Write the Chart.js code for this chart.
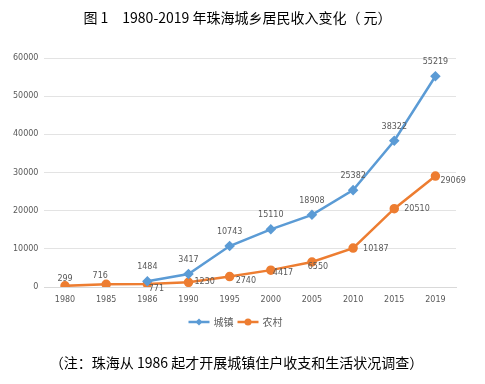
<!DOCTYPE html>
<html><head><meta charset="utf-8">
<script src="https://cdn.jsdelivr.net/npm/chart.js@4.4.0/dist/chart.umd.min.js"></script>
<style>
html,body{margin:0;padding:0;background:#fff;width:485px;height:384px;overflow:hidden}
#wrap{position:relative;width:485px;height:384px}
canvas{position:absolute;left:0;top:0}
.t{position:absolute;left:0;width:485px;text-align:center;font-family:"Noto Sans CJK SC",sans-serif;color:#111;white-space:pre}
#title{top:7px;left:-5px;font-size:14px;font-weight:normal;color:#000}
#note{top:352px;left:-6px;font-size:14px;color:#000}
</style></head>
<body><div id="wrap">
<canvas id="c" width="485" height="384"></canvas>
<div class="t" id="title">图 1　1980-2019 年珠海城乡居民收入变化（ 元）</div>
<div class="t" id="note">（注：珠海从 1986 起才开展城镇住户收支和生活状况调查）</div>
</div>
<script>
const categories = ['1980','1985','1986','1990','1995','2000','2005','2010','2015','2019'];
const urbanIncome = [null, null, 1484, 3417, 10743, 15110, 18908, 25382, 38322, 55219];
const ruralIncome = [299, 716, 771, 1230, 2740, 4417, 6550, 10187, 20510, 29069];
const seriesNames = ['城镇', '农村'];

const BLUE = '#5B9BD5', ORANGE = '#ED7D31';

// label placement offsets (style, not data)
const urbanLabelPos = categories.map(() => ({dx:0, dy:-14, align:'center'}));
const ruralLabelPos = [
  {dx:0,dy:-7,align:'center'},{dx:-6,dy:-8,align:'center'},{dx:9,dy:5,align:'center'},
  {dx:6,dy:0,align:'left'},{dx:6,dy:4,align:'left'},{dx:2,dy:3,align:'left'},
  {dx:6,dy:5,align:'center'},{dx:10,dy:1,align:'left'},{dx:10,dy:0,align:'left'},{dx:5,dy:5,align:'left'}
];

function drawMarker(g, style, x, y, r){
  g.beginPath();
  if(style==='circle'){ g.arc(x,y,r,0,Math.PI*2); }
  else { g.moveTo(x,y-r); g.lineTo(x+r,y); g.lineTo(x,y+r); g.lineTo(x-r,y); g.closePath(); }
  g.fill();
}

const labelPlugin = {
  id:'dataLabels',
  afterDatasetsDraw(chart){
    const ctx = chart.ctx;
    ctx.save();
    ctx.font = '8px "DejaVu Sans"';
    ctx.fillStyle = '#595959';
    ctx.textBaseline = 'middle';
    chart.data.datasets.forEach((ds, di) => {
      const meta = chart.getDatasetMeta(di);
      const pos = ds.labelPos;
      meta.data.forEach((pt, i) => {
        const v = ds.data[i];
        if (v === null || v === undefined) return;
        const p = pos[i];
        ctx.textAlign = p.align;
        ctx.fillText(String(v), pt.x + p.dx, pt.y + p.dy);
      });
    });
    ctx.restore();
  }
};

const legendPlugin = {
  id:'lineLegend',
  afterDraw(chart){
    const ctx = chart.ctx;
    ctx.save();
    ctx.font = '10px "Noto Sans CJK SC"';
    ctx.textBaseline = 'middle';
    ctx.textAlign = 'left';
    const y = chart.chartArea.bottom + 35;
    const sw = 21, gap = 4, itemGap = 4;
    const items = chart.data.datasets.map(ds => ({ds, w: sw + gap + ctx.measureText(ds.label).width}));
    const total = items.reduce((a,b)=>a+b.w,0) + itemGap*(items.length-1);
    let x = chart.width/2 - 7 - total/2;
    items.forEach(it => {
      const ds = it.ds;
      ctx.strokeStyle = ds.borderColor; ctx.fillStyle = ds.borderColor; ctx.lineWidth = 2.5;
      ctx.beginPath(); ctx.moveTo(x, y); ctx.lineTo(x+sw, y); ctx.stroke();
      drawMarker(ctx, ds.pointStyle === 'circle' ? 'circle' : 'diamond', x+sw/2, y, 3.5);
      ctx.fillStyle = '#595959';
      ctx.fillText(ds.label, x + sw + gap, y);
      x += it.w + itemGap;
    });
    ctx.restore();
  }
};

new Chart(document.getElementById('c'), {
  type:'line',
  data:{
    labels: categories,
    datasets:[
      {label:seriesNames[0], data:urbanIncome, borderColor:BLUE, backgroundColor:BLUE,
       borderWidth:2.5, pointStyle:'rectRot', pointRadius:3.5, pointHoverRadius:3.5,
       tension:0, spanGaps:false, labelPos:urbanLabelPos},
      {label:seriesNames[1], data:ruralIncome, borderColor:ORANGE, backgroundColor:ORANGE,
       borderWidth:2.5, pointStyle:'circle', pointRadius:3.5, pointHoverRadius:3.5,
       tension:0, labelPos:ruralLabelPos}
    ]
  },
  options:{
    responsive:false, animation:false,
    layout:{padding:{top:58, left:7, right:29, bottom:77}},
    plugins:{
      tooltip:{enabled:false},
      title:{display:false},
      legend:{display:false}
    },
    scales:{
      x:{
        offset:true,
        grid:{display:false, offset:true},
        border:{display:true, color:'#d9d9d9'},
        ticks:{font:{family:'"DejaVu Sans"', size:8}, color:'#595959', padding:0},
        afterFit(s){ s.height = 20; }
      },
      y:{
        min:0, max:60000,
        grid:{color:'#e3e3e3', drawTicks:false},
        border:{display:false},
        ticks:{stepSize:10000, font:{family:'"DejaVu Sans"', size:8}, color:'#595959', padding:6,
               callback:(v)=>String(v)}
      }
    }
  },
  plugins:[labelPlugin, legendPlugin]
});
</script>
</body></html>
